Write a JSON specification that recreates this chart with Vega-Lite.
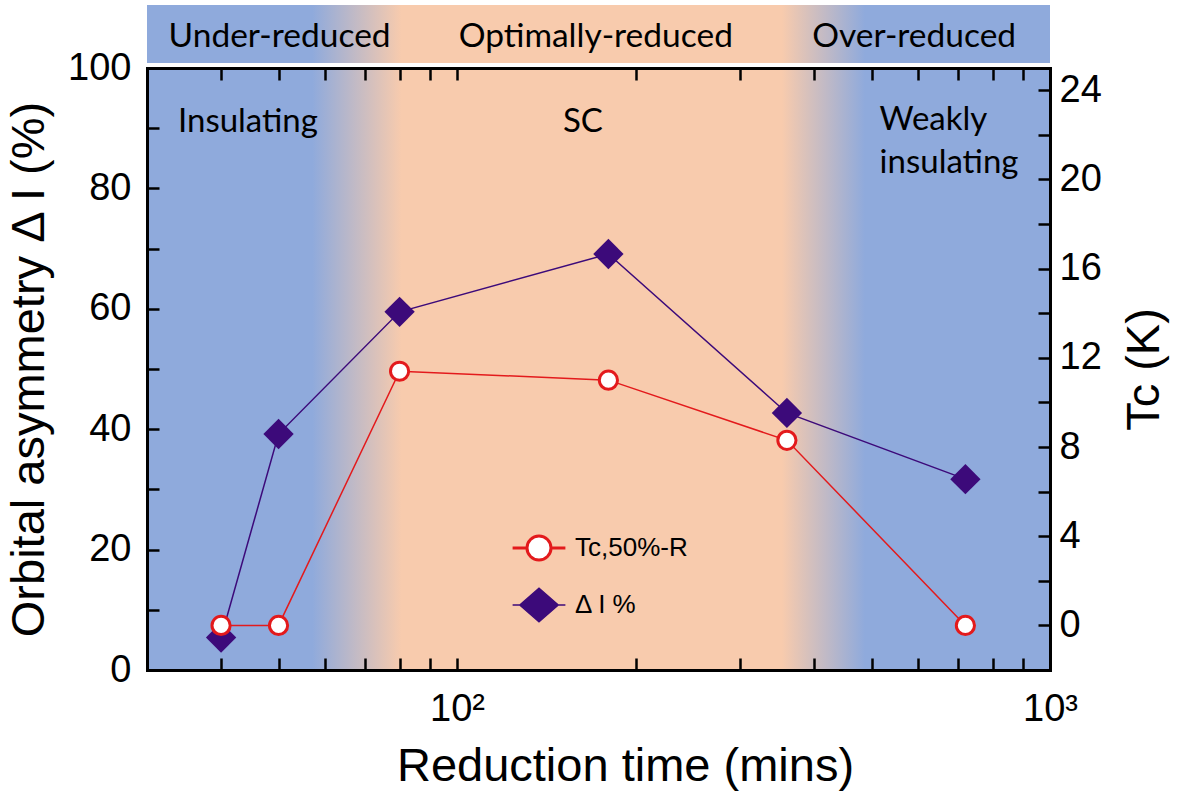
{
  "$schema": "https://vega.github.io/schema/vega-lite/v6.json",
  "background": "white",
  "padding": {"left": 5, "top": 5, "right": 5, "bottom": 5},
  "bounds": "flush",
  "config": {
    "view": {"stroke": null},
    "axis": {"labelFont": "Liberation Sans", "titleFont": "Liberation Sans", "labelColor": "black", "titleColor": "black", "tickColor": "black", "domainColor": "black", "grid": false, "labelFontSize": 38, "titleFontSize": 47, "titleFontWeight": "normal", "tickWidth": 2.5, "domainWidth": 3, "domainCap": "square", "labelOverlap": false, "labelFlush": false},
    "legend": {"orient": "none", "legendX": 379, "legendY": 530, "symbolSize": 576, "labelFont": "Liberation Sans", "labelFontSize": 26, "labelColor": "black", "labelOffset": 23, "rowPadding": 19, "padding": 0, "symbolStrokeWidth": 2.5, "symbolOpacity": 1}
  },
  "datasets": {
    "span": [{"t0": 30, "t1": 1000}],
    "banner": [
      {"t": 50.2, "label": "Under-reduced"},
      {"t": 171.4, "label": "Optimally-reduced"},
      {"t": 590, "label": "Over-reduced"}
    ],
    "notes": [
      {"t": 44.4, "v": 91, "label": "Insulating"},
      {"t": 163, "v": 91, "label": "SC"}
    ],
    "notes2": [
      {"t": 516, "v": 91.3, "label": ["Weakly", "insulating"]}
    ],
    "pts": [
      {"series": "Δ I %", "t": 40, "v": 5.4},
      {"series": "Δ I %", "t": 50, "v": 39.2},
      {"series": "Δ I %", "t": 80, "v": 59.5},
      {"series": "Δ I %", "t": 180, "v": 69.1},
      {"series": "Δ I %", "t": 360, "v": 42.7},
      {"series": "Δ I %", "t": 720, "v": 31.7},
      {"series": "Tc,50%-R", "t": 40, "v": 0},
      {"series": "Tc,50%-R", "t": 50, "v": 0},
      {"series": "Tc,50%-R", "t": 80, "v": 11.4},
      {"series": "Tc,50%-R", "t": 180, "v": 11.0},
      {"series": "Tc,50%-R", "t": 360, "v": 8.3},
      {"series": "Tc,50%-R", "t": 720, "v": 0}
    ]
  },
  "resolve": {"scale": {"x": "independent"}},
  "spacing": 5,
  "vconcat": [
    {
      "width": 903,
      "height": 58,
      "layer": [
        {
          "data": {"name": "span"},
          "mark": {"type": "rect", "fill": {"gradient": "linear", "x1": 0, "y1": 0, "x2": 1, "y2": 0, "stops": [{"offset": 0, "color": "#8FAADC"}, {"offset": 0.183, "color": "#8FAADC"}, {"offset": 0.282, "color": "#F8CBAD"}, {"offset": 0.703, "color": "#F8CBAD"}, {"offset": 0.795, "color": "#8FAADC"}, {"offset": 1, "color": "#8FAADC"}]}},
          "encoding": {
            "x": {"field": "t0", "type": "quantitative", "scale": {"type": "log", "domain": [30, 1000], "nice": false}, "axis": null},
            "x2": {"field": "t1"}
          }
        },
        {
          "data": {"name": "banner"},
          "mark": {"type": "text", "font": "Lato", "fontSize": 33.5, "color": "black", "baseline": "middle", "dy": 3},
          "encoding": {
            "x": {"field": "t", "type": "quantitative", "scale": {"type": "log", "domain": [30, 1000], "nice": false}, "axis": null},
            "text": {"field": "label"}
          }
        }
      ]
    },
    {
      "width": 903,
      "height": 602,
      "resolve": {"scale": {"y": "independent"}, "axis": {"x": "independent"}},
      "layer": [
        {
          "layer": [
            {
              "data": {"name": "span"},
              "mark": {"type": "rect", "fill": {"gradient": "linear", "x1": 0, "y1": 0, "x2": 1, "y2": 0, "stops": [{"offset": 0, "color": "#8FAADC"}, {"offset": 0.183, "color": "#8FAADC"}, {"offset": 0.282, "color": "#F8CBAD"}, {"offset": 0.703, "color": "#F8CBAD"}, {"offset": 0.795, "color": "#8FAADC"}, {"offset": 1, "color": "#8FAADC"}]}},
              "encoding": {
                "x": {"field": "t0", "type": "quantitative", "scale": {"type": "log", "domain": [30, 1000], "nice": false},
                  "axis": {"orient": "bottom", "zindex": 1, "values": [40, 50, 60, 70, 80, 90, 100, 200, 300, 400, 500, 600, 700, 800, 900, 1000], "labelExpr": "datum.value === 100 ? '10²' : datum.value === 1000 ? '10³' : ''", "tickSize": -12, "labelPadding": 32, "title": "Reduction time (mins)", "titlePadding": 15, "titleX": 478, "encode": {"ticks": {"update": {"y2": {"signal": "datum.value === 100 || datum.value === 1000 ? -12 : -7"}}}}}},
                "x2": {"field": "t1"}
              }
            },
            {
              "data": {"name": "notes"},
              "mark": {"type": "text", "font": "Lato", "fontSize": 33, "color": "black", "baseline": "middle", "align": "center"},
              "encoding": {
                "x": {"field": "t", "type": "quantitative", "scale": {"type": "log", "domain": [30, 1000], "nice": false}},
                "y": {"field": "v", "type": "quantitative", "scale": {"domain": [0, 100], "nice": false, "zero": false},
                  "axis": {"orient": "left", "zindex": 1, "values": [0, 10, 20, 30, 40, 50, 60, 70, 80, 90, 100], "labelExpr": "datum.value % 20 === 0 ? datum.label : ''", "tickSize": -12, "labelPadding": 28, "title": "Orbital asymmetry Δ I (%)", "titlePadding": 14, "encode": {"ticks": {"update": {"x2": {"signal": "datum.value % 20 === 0 ? 12 : 7"}}}}}},
                "text": {"field": "label"}
              }
            },
            {
              "data": {"name": "notes2"},
              "mark": {"type": "text", "font": "Lato", "fontSize": 33, "color": "black", "baseline": "middle", "align": "left", "lineHeight": 43},
              "encoding": {
                "x": {"field": "t", "type": "quantitative", "scale": {"type": "log", "domain": [30, 1000], "nice": false}},
                "y": {"field": "v", "type": "quantitative", "scale": {"domain": [0, 100], "nice": false, "zero": false}},
                "text": {"field": "label"}
              }
            },
            {
              "data": {"name": "pts"},
              "transform": [{"filter": "datum.series === 'Δ I %'"}],
              "mark": {"type": "line", "color": "#3C0A7A", "strokeWidth": 1.5},
              "encoding": {
                "x": {"field": "t", "type": "quantitative", "scale": {"type": "log", "domain": [30, 1000], "nice": false}},
                "y": {"field": "v", "type": "quantitative", "scale": {"domain": [0, 100], "nice": false, "zero": false}}
              }
            },
            {
              "data": {"name": "pts"},
              "transform": [{"filter": "datum.series === 'Δ I %'"}],
              "mark": {"type": "point", "shape": "diamond", "size": 920, "filled": true, "opacity": 1, "strokeWidth": 0},
              "encoding": {
                "x": {"field": "t", "type": "quantitative", "scale": {"type": "log", "domain": [30, 1000], "nice": false}},
                "y": {"field": "v", "type": "quantitative", "scale": {"domain": [0, 100], "nice": false, "zero": false}},
                "fill": {"field": "series", "type": "nominal", "scale": {"domain": ["Tc,50%-R", "Δ I %"], "range": ["#FFFFFF", "#3C0A7A"]}, "legend": {"title": null}},
                "stroke": {"field": "series", "type": "nominal", "scale": {"domain": ["Tc,50%-R", "Δ I %"], "range": ["#E31A1C", "#3C0A7A"]}, "legend": {"title": null}}
              }
            }
          ]
        },
        {
          "layer": [
            {
              "data": {"name": "pts"},
              "transform": [{"filter": "datum.series === 'Tc,50%-R'"}],
              "mark": {"type": "line", "color": "#E31A1C", "strokeWidth": 1.5},
              "encoding": {
                "x": {"field": "t", "type": "quantitative", "scale": {"type": "log", "domain": [30, 1000], "nice": false},
                  "axis": {"orient": "top", "zindex": 1, "values": [40, 50, 60, 70, 80, 90, 100, 200, 300, 400, 500, 600, 700, 800, 900, 1000], "labels": false, "tickSize": -12, "minExtent": 0, "maxExtent": 0, "title": null, "encode": {"ticks": {"update": {"y2": {"signal": "datum.value === 100 || datum.value === 1000 ? 12 : 7"}}}}}},
                "y": {"field": "v", "type": "quantitative", "scale": {"domain": [-2, 25], "nice": false, "zero": false},
                  "axis": {"orient": "right", "zindex": 1, "values": [0, 2, 4, 6, 8, 10, 12, 14, 16, 18, 20, 22, 24], "labelExpr": "datum.value % 4 === 0 ? datum.label : ''", "tickSize": -12, "labelPadding": 21, "title": "Tc (K)", "titleAngle": 270, "titleBaseline": "top", "titlePadding": 20, "encode": {"ticks": {"update": {"x2": {"signal": "datum.value % 4 === 0 ? -12 : -7"}}}}}}
              }
            },
            {
              "data": {"name": "pts"},
              "transform": [{"filter": "datum.series === 'Tc,50%-R'"}],
              "mark": {"type": "point", "shape": "circle", "size": 330, "filled": true, "opacity": 1, "strokeWidth": 3},
              "encoding": {
                "x": {"field": "t", "type": "quantitative", "scale": {"type": "log", "domain": [30, 1000], "nice": false}},
                "y": {"field": "v", "type": "quantitative", "scale": {"domain": [-2, 25], "nice": false, "zero": false}},
                "fill": {"field": "series", "type": "nominal", "scale": {"domain": ["Tc,50%-R", "Δ I %"], "range": ["#FFFFFF", "#3C0A7A"]},
                  "legend": {"title": null, "encode": {"symbols": {"update": {"shape": {"signal": "datum.value === 'Tc,50%-R' ? 'M-2.2,0H-1M1,0H2.2M-1,0A1,1,0,1,0,1,0A1,1,0,1,0,-1,0Z' : 'M-2.2,0H-1.6M1.6,0H2.2M-1.6,0L0,-1.4L1.6,0L0,1.4Z'"}, "strokeWidth": {"signal": "datum.value === 'Tc,50%-R' ? 3 : 1.5"}}}}}},
                "stroke": {"field": "series", "type": "nominal", "scale": {"domain": ["Tc,50%-R", "Δ I %"], "range": ["#E31A1C", "#3C0A7A"]}, "legend": {"title": null}}
              }
            }
          ]
        }
      ]
    }
  ]
}
